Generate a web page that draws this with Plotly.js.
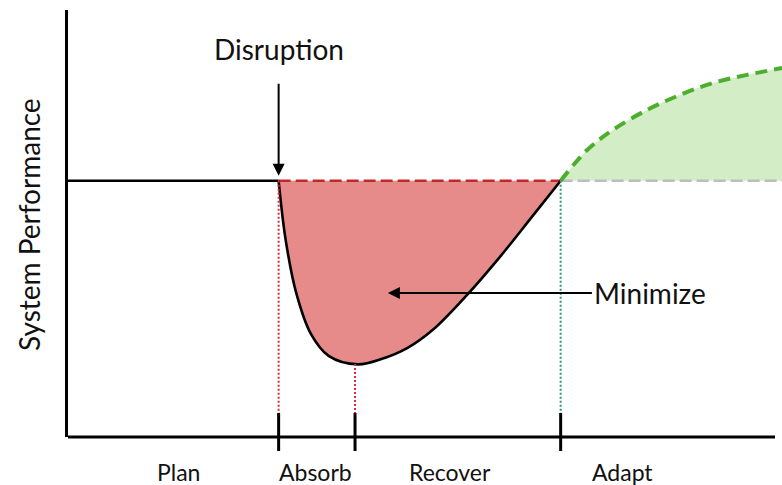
<!DOCTYPE html>
<html>
<head>
<meta charset="utf-8">
<script src="https://cdn.plot.ly/plotly-3.0.1.min.js"></script>
<style>html,body{margin:0;padding:0;background:#fff;}#chart{width:782px;height:485px;}</style>
</head>
<body>
<div id="chart"></div>
<script>
// Time axis (0–100) and performance axis (0–100)
const baselineLevel = 60;
const disruptionTime = 29.5;
const bottomTime = 40.2;
const recoveryTime = 69.0;
const endTime = 100;
const tickBottomLevel = 5.6;

// Performance drop and recovery curve
const dropT = [29.5, 30.5, 32.0, 34.0, 36.5, 40.6, 44.0, 47.5, 51.1, 55.9, 60.5, 65.0, 69.0];
const dropV = [60, 46.0, 33.5, 24.2, 19.0, 17.0, 18.3, 20.8, 25.1, 33.3, 42.2, 51.6, 60];
const minLevel = 17.1;

// Adaptation curve
const adaptT = [69.0, 72.7, 76.3, 81.1, 85.7, 90.3, 95.1, 100];
const adaptV = [60, 67.2, 71.9, 76.6, 80.1, 82.9, 84.8, 86.4];

// Phase labels
const phaseLabels = ['Plan', 'Absorb', 'Recover', 'Adapt'];
const phaseLabelPos = [15.5, 34.7, 53.5, 77.6];
const phaseTicks = [disruptionTime, bottomTime, recoveryTime];

const FONT = 'Lato, "DejaVu Sans", sans-serif';

const traces = [
  {x: [0, disruptionTime], y: [baselineLevel, baselineLevel], mode: 'lines',
   line: {color: '#000', width: 2.4}, hoverinfo: 'skip'},
  {x: [disruptionTime, recoveryTime], y: [baselineLevel, baselineLevel], mode: 'lines',
   line: {color: '#c0282e', width: 2.4, dash: '12px,5px'}, hoverinfo: 'skip'},
  {x: dropT, y: dropV, mode: 'lines', fill: 'tonexty', fillcolor: '#e68a8a',
   line: {color: '#000', width: 2.6, shape: 'spline', smoothing: 1}, hoverinfo: 'skip'},
  {x: [recoveryTime, endTime], y: [baselineLevel, baselineLevel], mode: 'lines',
   line: {color: '#bdbdbd', width: 2.4, dash: '12px,5px'}, hoverinfo: 'skip'},
  {x: adaptT, y: adaptV, mode: 'lines', fill: 'tonexty', fillcolor: '#d3edc6',
   line: {color: '#4cae2c', width: 4, dash: '12px,7px', shape: 'spline', smoothing: 1}, hoverinfo: 'skip'},
  {x: [disruptionTime, disruptionTime], y: [baselineLevel, tickBottomLevel], mode: 'lines',
   line: {color: '#d0303a', width: 2, dash: '2px,2px'}, hoverinfo: 'skip'},
  {x: [bottomTime, bottomTime], y: [minLevel, tickBottomLevel], mode: 'lines',
   line: {color: '#d0303a', width: 2, dash: '2px,2px'}, hoverinfo: 'skip'},
  {x: [recoveryTime, recoveryTime], y: [baselineLevel, tickBottomLevel], mode: 'lines',
   line: {color: '#2e9a6e', width: 2, dash: '2px,2px'}, hoverinfo: 'skip'}
];

const shapes = phaseTicks.map(t => ({
  type: 'line', xref: 'x', yref: 'paper', x0: t, x1: t, y0: -14/427, y1: 24/427,
  line: {color: '#000', width: 3}
}));
shapes.push({type: 'line', xref: 'paper', yref: 'paper', x0: 0, x1: 707/714, y0: 0, y1: 0,
  line: {color: '#000', width: 3}});

const annotations = phaseLabels.map((lbl, i) => ({
  text: lbl, x: phaseLabelPos[i], xref: 'x', y: -35/427, yref: 'paper',
  showarrow: false, xanchor: 'center', yanchor: 'middle',
  font: {family: FONT, size: 23, color: '#111'}
}));
annotations.push({
  text: 'System Performance', xref: 'paper', yref: 'paper', x: -39/714, y: 212/427,
  textangle: -90, showarrow: false, xanchor: 'center', yanchor: 'middle',
  font: {family: FONT, size: 28, color: '#111'}
});
annotations.push({
  text: 'Disruption', x: disruptionTime, y: 61.2, xref: 'x', yref: 'y',
  showarrow: true, ax: 0, ay: -108, xanchor: 'center', yanchor: 'bottom',
  startstandoff: 16, arrowhead: 2, arrowsize: 1.2, arrowwidth: 2, arrowcolor: '#000',
  font: {family: FONT, size: 28, color: '#111'}
});
annotations.push({
  text: 'Minimize', x: 44.8, y: 33.7, xref: 'x', yref: 'y',
  showarrow: true, ax: 204, ay: 0, xanchor: 'left', yanchor: 'middle',
  arrowhead: 2, arrowsize: 1.2, arrowwidth: 2, arrowcolor: '#000',
  font: {family: FONT, size: 28, color: '#111'}
});

const layout = {
  width: 782, height: 485,
  margin: {l: 68, r: 0, t: 10, b: 48},
  paper_bgcolor: '#fff', plot_bgcolor: '#fff',
  showlegend: false,
  xaxis: {range: [0, 100], showgrid: false, zeroline: false, showticklabels: false,
          ticks: '', showline: false, fixedrange: true},
  yaxis: {range: [0, 100], showgrid: false, zeroline: false, showticklabels: false,
          ticks: '', showline: true, linecolor: '#000', linewidth: 3, fixedrange: true},
  shapes: shapes,
  annotations: annotations
};

Plotly.newPlot('chart', traces, layout, {displayModeBar: false, staticPlot: true});
</script>
</body>
</html>
